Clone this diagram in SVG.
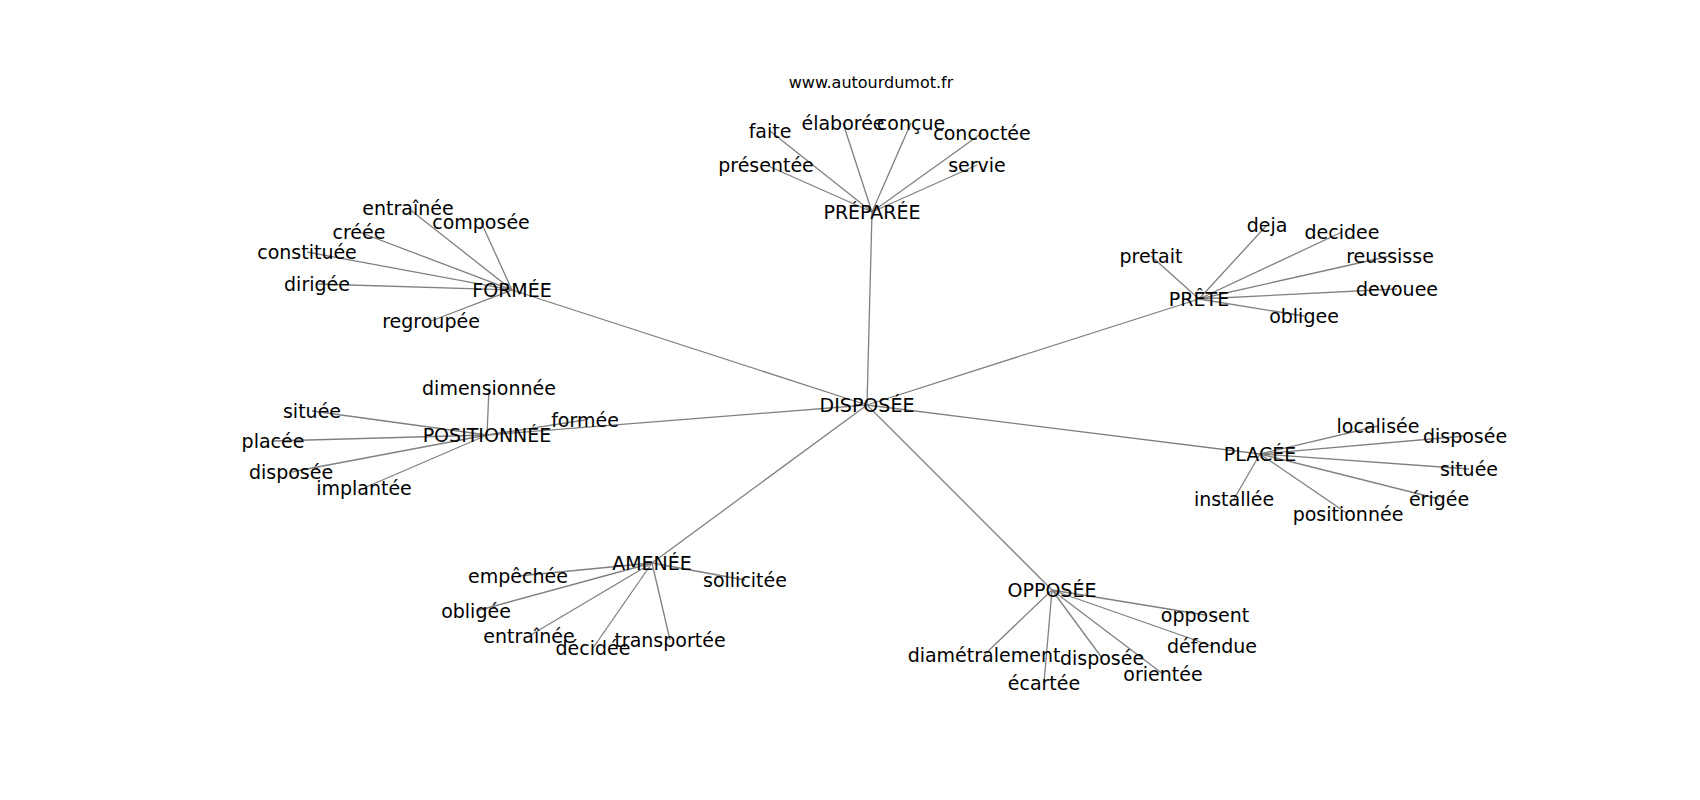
<svg xmlns="http://www.w3.org/2000/svg" width="1700" height="800" viewBox="0 0 1700 800">
<style>
.e line{stroke:#808080;stroke-width:1.3;fill:none}
text{font-family:"DejaVu Sans","Liberation Sans",sans-serif;font-size:19px;fill:#000;text-anchor:middle}
.t{font-size:16px}
</style>
<rect width="1700" height="800" fill="#fff"/>
<text class="t" x="871" y="88">www.autourdumot.fr</text>
<g id="edges" class="e">
<line x1="867" y1="405" x2="872" y2="212"/>
<line x1="867" y1="405" x2="512" y2="290"/>
<line x1="867" y1="405" x2="1199" y2="299"/>
<line x1="867" y1="405" x2="487" y2="435"/>
<line x1="867" y1="405" x2="1260" y2="454"/>
<line x1="867" y1="405" x2="652" y2="563"/>
<line x1="867" y1="405" x2="1052" y2="590"/>
<line x1="872" y1="212" x2="770" y2="131"/>
<line x1="872" y1="212" x2="843" y2="123"/>
<line x1="872" y1="212" x2="911" y2="123"/>
<line x1="872" y1="212" x2="982" y2="133"/>
<line x1="872" y1="212" x2="766" y2="165"/>
<line x1="872" y1="212" x2="977" y2="165"/>
<line x1="512" y1="290" x2="408" y2="208"/>
<line x1="512" y1="290" x2="481" y2="222"/>
<line x1="512" y1="290" x2="359" y2="232"/>
<line x1="512" y1="290" x2="307" y2="252"/>
<line x1="512" y1="290" x2="317" y2="284"/>
<line x1="512" y1="290" x2="431" y2="321"/>
<line x1="1199" y1="299" x2="1151" y2="256"/>
<line x1="1199" y1="299" x2="1267" y2="225"/>
<line x1="1199" y1="299" x2="1342" y2="232"/>
<line x1="1199" y1="299" x2="1390" y2="256"/>
<line x1="1199" y1="299" x2="1397" y2="289"/>
<line x1="1199" y1="299" x2="1304" y2="316"/>
<line x1="487" y1="435" x2="489" y2="388"/>
<line x1="487" y1="435" x2="312" y2="411"/>
<line x1="487" y1="435" x2="273" y2="441"/>
<line x1="487" y1="435" x2="291" y2="472"/>
<line x1="487" y1="435" x2="364" y2="488"/>
<line x1="487" y1="435" x2="585" y2="420"/>
<line x1="1260" y1="454" x2="1378" y2="426"/>
<line x1="1260" y1="454" x2="1465" y2="436"/>
<line x1="1260" y1="454" x2="1469" y2="469"/>
<line x1="1260" y1="454" x2="1439" y2="499"/>
<line x1="1260" y1="454" x2="1348" y2="514"/>
<line x1="1260" y1="454" x2="1234" y2="499"/>
<line x1="652" y1="563" x2="518" y2="576"/>
<line x1="652" y1="563" x2="745" y2="580"/>
<line x1="652" y1="563" x2="476" y2="611"/>
<line x1="652" y1="563" x2="529" y2="636"/>
<line x1="652" y1="563" x2="593" y2="648"/>
<line x1="652" y1="563" x2="670" y2="640"/>
<line x1="1052" y1="590" x2="1205" y2="615"/>
<line x1="1052" y1="590" x2="1212" y2="646"/>
<line x1="1052" y1="590" x2="1163" y2="674"/>
<line x1="1052" y1="590" x2="1102" y2="658"/>
<line x1="1052" y1="590" x2="1044" y2="683"/>
<line x1="1052" y1="590" x2="984" y2="655"/>
</g>
<g id="nodes">
<g id="n-disposee"><text x="867" y="412">DISPOSÉE</text></g>
<g id="n-preparee"><text x="872" y="219">PRÉPARÉE</text></g>
<g id="n-faite"><text x="770" y="138">faite</text></g>
<g id="n-elaboree"><text x="843" y="130">élaborée</text></g>
<g id="n-concue"><text x="911" y="130">conçue</text></g>
<g id="n-concoctee"><text x="982" y="140">concoctée</text></g>
<g id="n-presentee"><text x="766" y="172">présentée</text></g>
<g id="n-servie"><text x="977" y="172">servie</text></g>
<g id="n-formee"><text x="512" y="297">FORMÉE</text></g>
<g id="n-entrainee1"><text x="408" y="215">entraînée</text></g>
<g id="n-composee"><text x="481" y="229">composée</text></g>
<g id="n-creee"><text x="359" y="239">créée</text></g>
<g id="n-constituee"><text x="307" y="259">constituée</text></g>
<g id="n-dirigee"><text x="317" y="291">dirigée</text></g>
<g id="n-regroupee"><text x="431" y="328">regroupée</text></g>
<g id="n-prete"><text x="1199" y="306">PRÊTE</text></g>
<g id="n-pretait"><text x="1151" y="263">pretait</text></g>
<g id="n-deja"><text x="1267" y="232">deja</text></g>
<g id="n-decidee2"><text x="1342" y="239">decidee</text></g>
<g id="n-reussisse"><text x="1390" y="263">reussisse</text></g>
<g id="n-devouee"><text x="1397" y="296">devouee</text></g>
<g id="n-obligee2"><text x="1304" y="323">obligee</text></g>
<g id="n-positionnee"><text x="487" y="442">POSITIONNÉE</text></g>
<g id="n-dimensionnee"><text x="489" y="395">dimensionnée</text></g>
<g id="n-situee1"><text x="312" y="418">située</text></g>
<g id="n-placee1"><text x="273" y="448">placée</text></g>
<g id="n-disposee1"><text x="291" y="479">disposée</text></g>
<g id="n-implantee"><text x="364" y="495">implantée</text></g>
<g id="n-formee2"><text x="585" y="427">formée</text></g>
<g id="n-placee"><text x="1260" y="461">PLACÉE</text></g>
<g id="n-localisee"><text x="1378" y="433">localisée</text></g>
<g id="n-disposee2"><text x="1465" y="443">disposée</text></g>
<g id="n-situee2"><text x="1469" y="476">située</text></g>
<g id="n-erigee"><text x="1439" y="506">érigée</text></g>
<g id="n-positionnee2"><text x="1348" y="521">positionnée</text></g>
<g id="n-installee"><text x="1234" y="506">installée</text></g>
<g id="n-amenee"><text x="652" y="570">AMENÉE</text></g>
<g id="n-empechee"><text x="518" y="583">empêchée</text></g>
<g id="n-sollicitee"><text x="745" y="587">sollicitée</text></g>
<g id="n-obligee"><text x="476" y="618">obligée</text></g>
<g id="n-entrainee2"><text x="529" y="643">entraînée</text></g>
<g id="n-decidee"><text x="593" y="655">décidée</text></g>
<g id="n-transportee"><text x="670" y="647">transportée</text></g>
<g id="n-opposee"><text x="1052" y="597">OPPOSÉE</text></g>
<g id="n-opposent"><text x="1205" y="622">opposent</text></g>
<g id="n-defendue"><text x="1212" y="653">défendue</text></g>
<g id="n-orientee"><text x="1163" y="681">orientée</text></g>
<g id="n-disposee3"><text x="1102" y="665">disposée</text></g>
<g id="n-ecartee"><text x="1044" y="690">écartée</text></g>
<g id="n-diametralement"><text x="984" y="662">diamétralement</text></g>
</g>
</svg>
